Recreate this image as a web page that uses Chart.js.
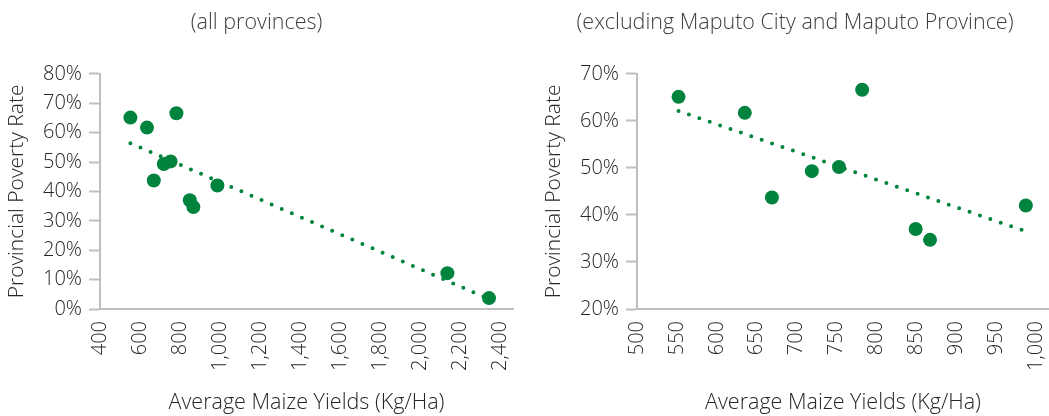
<!DOCTYPE html>
<html>
<head>
<meta charset="utf-8">
<script src="https://cdn.jsdelivr.net/npm/chart.js@4/dist/chart.umd.min.js"></script>
<style>
  html, body { margin: 0; padding: 0; background: #ffffff; }
  body { width: 1049px; height: 416px; position: relative; overflow: hidden; }
  .panel { position: absolute; top: 0; height: 416px; }
  #leftPanel { left: 0; width: 517px; }
  #rightPanel { left: 541px; width: 508px; }
</style>
</head>
<body>
<div class="panel" id="leftPanel"><canvas id="allChart"></canvas></div>
<div class="panel" id="rightPanel"><canvas id="exclChart"></canvas></div>
<script>
// Average maize yields (Kg/Ha) and provincial poverty rates (%) by province
const provinces = ['Niassa', 'Cabo Delgado', 'Nampula', 'Zambézia', 'Tete', 'Manica',
                   'Sofala', 'Inhambane', 'Gaza', 'Maputo Province', 'Maputo City'];
const maizeYields = [552, 635, 669, 719, 753, 782, 849, 867, 987, 2137, 2345];
const povertyRates = [65.1, 61.7, 43.7, 49.3, 50.2, 66.6, 37.0, 34.7, 42.0, 12.2, 3.7];

// Provinces left out of the second panel
const excludedProvinces = ['Maputo Province', 'Maputo City'];

// Axis tick labels
const allXTicks = [400, 600, 800, 1000, 1200, 1400, 1600, 1800, 2000, 2200, 2400];
const allYTicks = [0, 10, 20, 30, 40, 50, 60, 70, 80];
const exclXTicks = [500, 550, 600, 650, 700, 750, 800, 850, 900, 950, 1000];
const exclYTicks = [20, 30, 40, 50, 60, 70];

const panelTitles = ['(all provinces)', '(excluding Maputo City and Maputo Province)'];
const xTitle = 'Average Maize Yields (Kg/Ha)';
const yTitle = 'Provincial Poverty Rate';

const GREEN = '#00833d';
const AXIS_GREY = '#bfbfbf';
const TEXT = '#262626';
const FONT = '"Open Sans", "Noto Sans", sans-serif';

function toPoints(names) {
  const pts = [];
  provinces.forEach((p, i) => {
    if (names.includes(p)) pts.push({ x: maizeYields[i], y: povertyRates[i] });
  });
  return pts;
}

// Least-squares linear trend through the points, spanning their x range
function trendLine(pts) {
  const n = pts.length;
  const mx = pts.reduce((s, p) => s + p.x, 0) / n;
  const my = pts.reduce((s, p) => s + p.y, 0) / n;
  let sxy = 0, sxx = 0;
  pts.forEach(p => { sxy += (p.x - mx) * (p.y - my); sxx += (p.x - mx) * (p.x - mx); });
  const slope = sxy / sxx;
  const xs = pts.map(p => p.x);
  const x0 = Math.min(...xs), x1 = Math.max(...xs);
  return [{ x: x0, y: my + slope * (x0 - mx) }, { x: x1, y: my + slope * (x1 - mx) }];
}

function fixedTicks(values) {
  return scale => { scale.ticks = values.map(v => ({ value: v })); };
}

function buildChart(canvasId, pts, cfg) {
  return new Chart(document.getElementById(canvasId), {
    type: 'scatter',
    data: {
      datasets: [
        {
          type: 'line',
          data: trendLine(pts),
          borderColor: GREEN,
          borderWidth: 4,
          borderDash: [0, 11],
          borderCapStyle: 'round',
          pointRadius: 0,
          fill: false,
          order: 0
        },
        {
          data: pts,
          backgroundColor: GREEN,
          borderWidth: 0,
          pointRadius: 7,
          pointHoverRadius: 7,
          order: 1
        }
      ]
    },
    options: {
      responsive: true,
      maintainAspectRatio: false,
      animation: false,
      events: [],
      layout: {
        autoPadding: false,
        padding: { top: 0, right: cfg.padRight, bottom: 0, left: 0 }
      },
      plugins: {
        legend: { display: false },
        tooltip: { enabled: false },
        title: {
          display: true,
          text: cfg.title,
          color: '#404040',
          font: { family: FONT, size: 21.5, weight: '300', lineHeight: 1.2 },
          padding: { top: 10, bottom: 38 }
        }
      },
      scales: {
        x: {
          type: 'linear',
          min: cfg.xMin,
          max: cfg.xMax,
          afterBuildTicks: fixedTicks(cfg.xTicks),
          afterFit: s => { s.height = 107; s.paddingLeft = 0; s.paddingRight = 0; },
          border: { display: true, color: AXIS_GREY, width: 2 },
          grid: { display: true, drawOnChartArea: false, drawTicks: false },
          ticks: {
            minRotation: 90,
            maxRotation: 90,
            autoSkip: false,
            padding: 12,
            color: TEXT,
            font: { family: FONT, size: 20, weight: '300' },
            callback: v => v.toLocaleString('en-US')
          },
          title: {
            display: true,
            text: xTitle,
            color: TEXT,
            font: { family: FONT, size: 21.5, weight: '300', lineHeight: 1.2 },
            padding: { top: 4, bottom: 0 }
          }
        },
        y: {
          type: 'linear',
          min: cfg.yMin,
          max: cfg.yMax,
          afterBuildTicks: fixedTicks(cfg.yTicks),
          afterFit: s => { s.width = cfg.yWidth; },
          border: { display: true, color: AXIS_GREY, width: 2 },
          grid: {
            display: true,
            drawOnChartArea: false,
            drawTicks: true,
            tickLength: 11,
            tickWidth: 2,
            tickColor: AXIS_GREY
          },
          ticks: {
            padding: 7,
            color: TEXT,
            font: { family: FONT, size: 20, weight: '300' },
            callback: v => v + '%'
          },
          title: {
            display: true,
            text: yTitle,
            color: TEXT,
            font: { family: FONT, size: 21, weight: '300', lineHeight: 1.2 },
            padding: { top: cfg.yTitlePad, bottom: 0 }
          }
        }
      }
    }
  });
}

buildChart('allChart', toPoints(provinces), {
  title: panelTitles[0],
  xMin: 400, xMax: 2465, xTicks: allXTicks,
  yMin: 0, yMax: 80, yTicks: allYTicks,
  yWidth: 100, yTitlePad: 4, padRight: 4
});

buildChart('exclChart', toPoints(provinces.filter(p => !excludedProvinces.includes(p))), {
  title: panelTitles[1],
  xMin: 500, xMax: 1016, xTicks: exclXTicks,
  yMin: 20, yMax: 70, yTicks: exclYTicks,
  yWidth: 96, yTitlePad: 0, padRight: 0
});
</script>
</body>
</html>
